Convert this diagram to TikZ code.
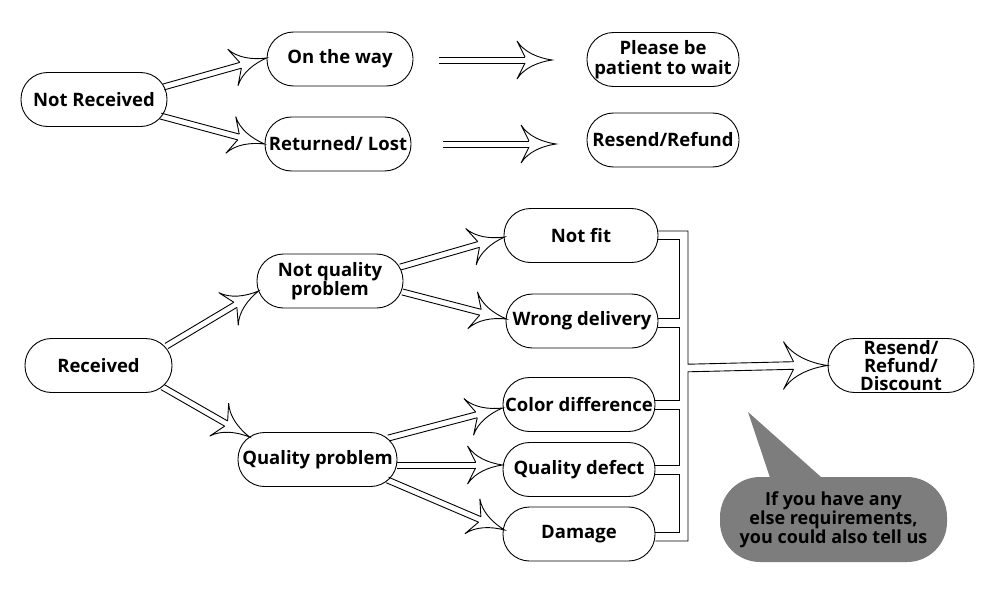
\documentclass[tikz,border=0pt]{standalone}
\usepackage{fontspec}
\setmainfont{Open Sans}
\usetikzlibrary{calc}
\definecolor{bubblegray}{RGB}{125,125,125}
\tikzset{
  box/.style={draw, line width=0.9pt, rounded corners=26.5pt, minimum width=150pt,
    minimum height=54pt, align=center, inner sep=1pt,
    font=\bfseries\fontsize{18.5}{19.5}\selectfont},
  shaft/.style={draw, line width=0.9pt},
  headline/.style={draw, line width=0.9pt, line join=miter},
  bracket/.style={draw, line width=0.9pt},
  bubble/.style={fill=bubblegray, rounded corners=40pt, minimum width=227pt,
    minimum height=85pt, align=center, inner sep=1pt,
    font=\bfseries\fontsize{18}{17.5}\selectfont},
}
% head only: #1 scale, #2 tip coordinate name, #3 angle
\newcommand\hhead[3][1]{%
  \begin{scope}[shift={(#2)}, rotate=#3, scale=#1]
    \draw[headline] (-27,3) -- (-35,19) .. controls (-28,8) and (-14,2) .. (0,0)
      .. controls (-14,-2) and (-28,-8) .. (-35,-19) -- (-27,-3);
  \end{scope}}
% full hollow arrow: #1 start, #2 tip
\newcommand\hollowarrow[2]{%
  \path #1 coordinate (ha) #2 coordinate (hb);
  \path ($(hb)!27pt!(ha)$) coordinate (hs);
  \pgfmathanglebetweenpoints{\pgfpointanchor{ha}{center}}{\pgfpointanchor{hb}{center}}%
  \edef\hang{\pgfmathresult}%
  \draw[shaft] ($(ha)!3pt!90:(hb)$) -- ($(hs)!3pt!-90:(ha)$);
  \draw[shaft] ($(ha)!3pt!-90:(hb)$) -- ($(hs)!3pt!90:(ha)$);
  \hhead{hb}{\hang}}
\begin{document}
\begin{tikzpicture}[x=1pt, y=-1pt]
\useasboundingbox (0,0) rectangle (999,605);
% nodes
\node[box, minimum width=146pt] (nr) at (94,99.5) {Not Received};
\node[box, minimum width=146pt] (ow) at (340,59) {On the way};
\node[box, minimum width=146pt] (rl) at (338,144) {Returned/ Lost};
\node[box, minimum width=152pt] (pw) at (663,59.5) {Please be\\patient to wait};
\node[box, minimum width=152pt] (rr) at (663,140) {Resend/Refund};
\node[box, minimum width=147pt] (rc) at (98.5,365.5) {Received};
\node[box, minimum width=146pt] (nq) at (330,281) {Not quality\\problem};
\node[box, minimum width=159pt] (qp) at (317.5,459.5) {Quality problem};
\node[box, minimum width=154pt] (nf) at (581,235.5) {Not fit};
\node[box, minimum width=152pt] (wd) at (582,321) {Wrong delivery};
\node[box, minimum width=152pt] (cd) at (579,404.5) {Color difference};
\node[box, minimum width=152pt] (qd) at (579,469.5) {Quality defect};
\node[box, minimum width=152pt] (dm) at (579,534) {Damage};
\node[box, minimum width=146pt, font=\bfseries\fontsize{18.5}{18}\selectfont] (rd) at (901,365.5) {Resend/\\Refund/\\Discount};
% top free arrows
\coordinate (t1s) at (439,60);
\coordinate (t1e) at (552,60);
\coordinate (t2s) at (443,144);
\coordinate (t2e) at (556,144);
\hollowarrow{(t1s)}{(t1e)}
\hollowarrow{(t2s)}{(t2e)}
% node arrows
\hollowarrow{($(nr.east)+(-4,-12.5)$)}{($(ow.west)+(0,-1)$)}
\hollowarrow{($(nr.east)+(-7,16.5)$)}{(rl.west)}
\hollowarrow{($(rc.east)+(-6,-19.5)$)}{($(nq.west)+(2,10)$)}
\hollowarrow{($(rc.east)+(-10,21.5)$)}{($(qp.west)+(12,-22.5)$)}
\hollowarrow{($(nq.east)+(-3,-14)$)}{($(nf.west)+(1,1.5)$)}
\hollowarrow{($(nq.east)+(-1,11)$)}{($(wd.west)+(1,-2)$)}
\hollowarrow{($(qp.east)+(-9,-21.5)$)}{($(cd.west)+(0,3.5)$)}
\hollowarrow{($(qp.east)+(0,5.5)$)}{($(qd.west)+(0,-4.5)$)}
\hollowarrow{($(qp.east)+(-10,20.5)$)}{($(dm.west)+(2,-4)$)}
% bracket
\coordinate (bt) at (rd.west);
\draw[bracket] (nf.east |- 0,231) -- (688,231) -- (688,364.2) -- ($(bt)+(-34,-3.8)$);
\draw[bracket] ($(bt)+(-34,3.8)$) -- (688,371.8) -- (688,541) -- (dm.east |- 0,541);
\draw[bracket] (nf.east |- 0,239) -- (679,239) -- (679,318) -- (wd.east |- 0,318);
\draw[bracket] (wd.east |- 0,327) -- (679,327) -- (679,400) -- (cd.east |- 0,400);
\draw[bracket] (cd.east |- 0,409) -- (679,409) -- (679,465) -- (qd.east |- 0,465);
\draw[bracket] (qd.east |- 0,474) -- (679,474) -- (679,532) -- (dm.east |- 0,532);
\hhead[1.26]{bt}{0}
% speech bubble
\fill[bubblegray] (748,412) -- (772.5,485) -- (830,485) -- cycle;
\node[bubble] (bb) at (833.5,519.5) {If you have any\\else requirements,\\you could also tell us};
\end{tikzpicture}
\end{document}
